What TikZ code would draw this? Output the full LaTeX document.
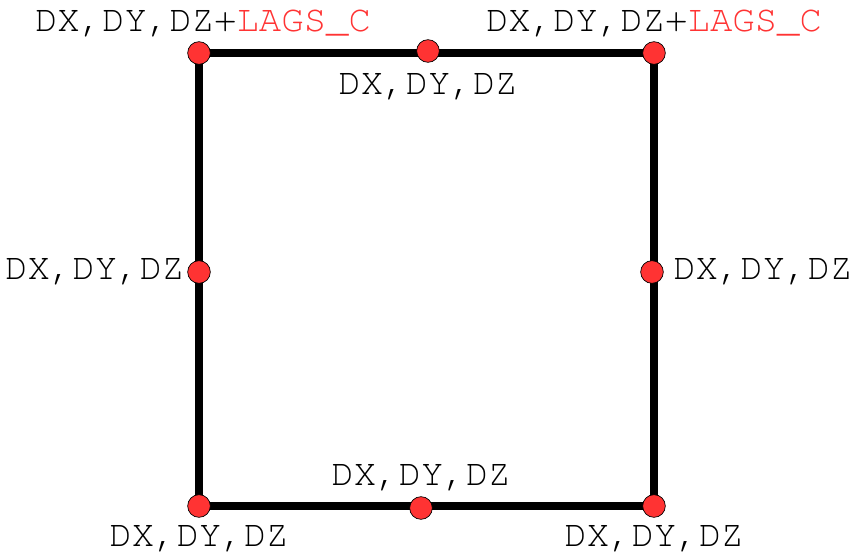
\documentclass[tikz,border=0pt]{standalone}
\usepackage{fontspec}
\setmonofont{TeX Gyre Cursor}
\usetikzlibrary{positioning,backgrounds}
\definecolor{dotred}{RGB}{255,51,51}
\tikzset{
  dot/.style={draw=black,line width=0.5pt,circle,fill=dotred,inner sep=0pt,minimum size=17pt},
  lab/.style={inner sep=0pt,font=\fontsize{28}{30}\ttfamily},
  edge/.style={line width=6pt}
}
\newcommand{\lagtxt}{DX,DY,DZ+\textcolor{dotred}{LAGS\_C}}
\begin{document}
\begin{tikzpicture}[x=0.75pt,y=0.75pt]
\useasboundingbox (0,0) rectangle (853,554);
\node[dot] (tl) at (199,501) {};
\node[dot] (tm) at (428,503) {};
\node[dot] (tr) at (654,501) {};
\node[dot] (lm) at (199,282) {};
\node[dot] (rm) at (652,282) {};
\node[dot] (bl) at (199,48) {};
\node[dot] (bm) at (421,46) {};
\node[dot] (br) at (654,48) {};
\begin{pgfonlayer}{background}
\draw[edge] (tl.center) -- (tr.center) -- (br.center) -- (bl.center) -- cycle;
\end{pgfonlayer}
\node[lab,above=3pt of tl,xshift=3pt] (tlLab) {\lagtxt};
\node[lab,above=3pt of tr] (trLab) {\lagtxt};
\node[lab,below=8pt of tm] (tmLab) {DX,DY,DZ};
\node[lab,left=2pt of lm] (lmLab) {DX,DY,DZ};
\node[lab,right=7pt of rm] (rmLab) {DX,DY,DZ};
\node[lab,above=4pt of bm] (bmLab) {DX,DY,DZ};
\node[lab,below=6pt of bl] (blLab) {DX,DY,DZ};
\node[lab,below=6pt of br] (brLab) {DX,DY,DZ};
\end{tikzpicture}
\end{document}
